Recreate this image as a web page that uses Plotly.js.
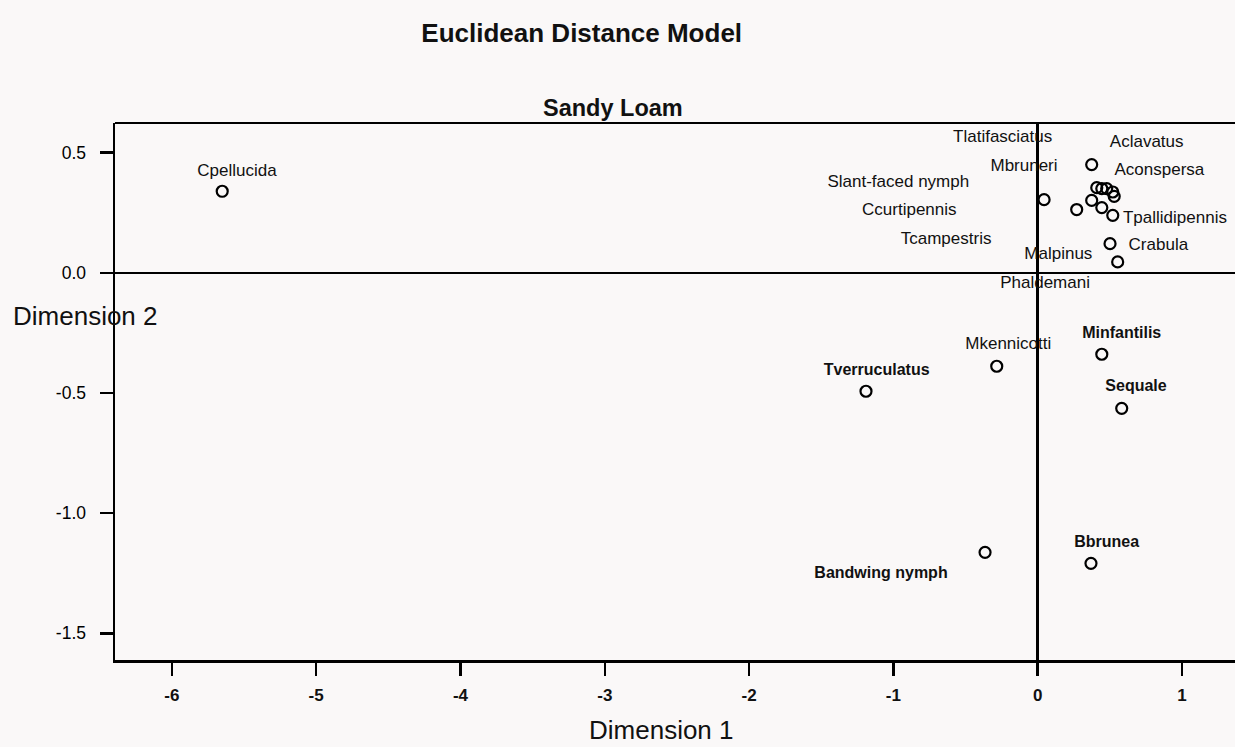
<!DOCTYPE html>
<html>
<head>
<meta charset="utf-8">
<script src="https://cdn.plot.ly/plotly-3.0.1.min.js"></script>
<style>html,body{margin:0;padding:0;background:#faf8f8;}#chart{width:1235px;height:747px;}</style>
</head>
<body>
<div id="chart"></div>
<script>
// Point coordinates (Dimension 1, Dimension 2)
const pointX = [-5.651, 0.374, 0.044, 0.270, 0.374, 0.409, 0.444, 0.478, 0.520, 0.530, 0.444, 0.520, 0.501, 0.554,
                -0.284, -1.190, 0.444, 0.582, -0.365, 0.369];
const pointY = [0.339, 0.450, 0.304, 0.263, 0.301, 0.354, 0.350, 0.350, 0.336, 0.318, 0.271, 0.239, 0.121, 0.045,
                -0.389, -0.493, -0.339, -0.564, -1.163, -1.209];

// Species labels (regular weight) and their positions
const labelNames = ["Tlatifasciatus", "Aclavatus", "Mbruneri", "Aconspersa", "Slant-faced nymph", "Ccurtipennis",
                    "Tpallidipennis", "Tcampestris", "Crabula", "Malpinus", "Phaldemani", "Cpellucida", "Mkennicotti"];
const labelX = [-0.243, 0.755, -0.095, 0.843, -0.966, -0.890, 0.951, -0.635, 0.836, 0.143, 0.051, -5.549, -0.204];
const labelY = [0.562, 0.539, 0.440, 0.426, 0.376, 0.260, 0.225, 0.139, 0.114, 0.073, -0.045, 0.422, -0.301];

// Species labels (bold) and their positions
const boldNames = ["Tverruculatus", "Minfantilis", "Sequale", "Bandwing nymph", "Bbrunea"];
const boldX = [-1.116, 0.582, 0.681, -1.086, 0.478];
const boldY = [-0.408, -0.256, -0.477, -1.254, -1.123];

// Tick labels
const xTicks = [-6, -5, -4, -3, -2, -1, 0, 1];
const xTickText = ["-6", "-5", "-4", "-3", "-2", "-1", "0", "1"];
const yTicks = [0.5, 0, -0.5, -1, -1.5];
const yTickText = ["0.5", "0.0", "-0.5", "-1.0", "-1.5"];

const FONT = "Liberation Sans, Arial, sans-serif";

const traces = [
  {
    x: pointX, y: pointY, type: "scatter", mode: "markers",
    marker: {symbol: "circle-open", size: 11, color: "#000", line: {width: 2.2, color: "#000"}},
    hoverinfo: "skip", showlegend: false
  },
  {
    x: labelX, y: labelY, text: labelNames, type: "scatter", mode: "text",
    textposition: "middle center",
    textfont: {family: FONT, size: 17, color: "#111"},
    cliponaxis: false, hoverinfo: "skip", showlegend: false
  },
  {
    x: boldX, y: boldY, text: boldNames, type: "scatter", mode: "text",
    textposition: "middle center",
    textfont: {family: FONT, size: 16, color: "#111", weight: "bold"},
    cliponaxis: false, hoverinfo: "skip", showlegend: false
  }
];

const layout = {
  width: 1235, height: 747,
  margin: {l: 115, r: 0, t: 123, b: 87},
  paper_bgcolor: "#faf8f8",
  plot_bgcolor: "#faf8f8",
  font: {family: FONT, color: "#111"},
  title: {
    text: "<b>Euclidean Distance Model</b>",
    font: {family: FONT, size: 26, color: "#111"},
    xref: "container", yref: "container",
    x: 581.7 / 1235, y: 1 - 32.7 / 747,
    xanchor: "center", yanchor: "middle"
  },
  xaxis: {
    range: [-6.394, 1.367],
    tickvals: xTicks, ticktext: xTickText,
    showgrid: false,
    zeroline: true, zerolinecolor: "#000", zerolinewidth: 2.5,
    showline: true, linecolor: "#000", linewidth: 2.5,
    ticks: "outside", ticklen: 13, tickwidth: 2.5, tickcolor: "#000",
    tickfont: {family: FONT, size: 17, color: "#111", weight: "bold"},
    ticklabelstandoff: 5,
    fixedrange: true
  },
  yaxis: {
    range: [-1.611, 0.623],
    tickvals: yTicks, ticktext: yTickText,
    showgrid: false,
    zeroline: true, zerolinecolor: "#000", zerolinewidth: 2.5,
    showline: true, linecolor: "#000", linewidth: 2.5,
    ticks: "outside", ticklen: 13, tickwidth: 2.5, tickcolor: "#000",
    tickfont: {family: FONT, size: 17.5, color: "#000"},
    ticklabelstandoff: 10,
    fixedrange: true
  },
  shapes: [
    {type: "line", xref: "paper", yref: "paper", x0: 0, x1: 1, y0: 1, y1: 1, line: {color: "#000", width: 1.8}}
  ],
  annotations: [
    {text: "<b>Sandy Loam</b>", xref: "paper", yref: "paper", x: (613 - 115) / 1120, y: (660 - 107.7) / 537,
     xanchor: "center", yanchor: "middle", showarrow: false, font: {family: FONT, size: 23.5, color: "#111"}},
    {text: "Dimension 2", xref: "paper", yref: "paper", x: (85.5 - 115) / 1120, y: (660 - 316) / 537,
     xanchor: "center", yanchor: "middle", showarrow: false, font: {family: FONT, size: 26, color: "#111"}},
    {text: "Dimension 1", xref: "paper", yref: "paper", x: (661.7 - 115) / 1120, y: (660 - 730) / 537,
     xanchor: "center", yanchor: "middle", showarrow: false, font: {family: FONT, size: 26, color: "#111"}}
  ]
};

Plotly.newPlot("chart", traces, layout, {displayModeBar: false, staticPlot: true});
</script>
</body>
</html>
